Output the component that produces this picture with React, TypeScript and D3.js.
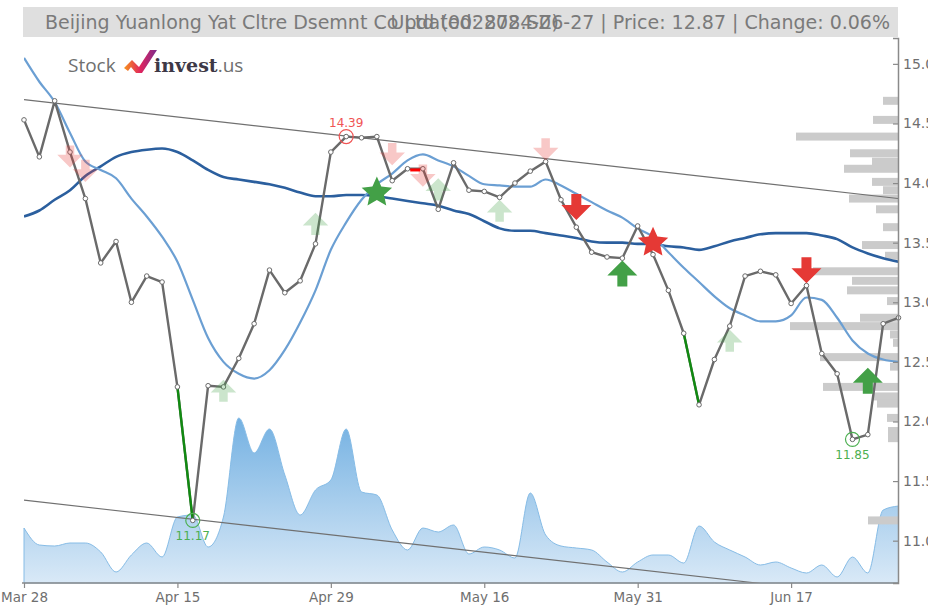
import React, { useEffect, useRef } from 'react';
import * as d3 from 'd3';

// daily closes, Mar 28 .. Jun 26 (58 sessions)
const closes = [
  14.53, 14.22, 14.69, 14.26, 13.87, 13.33, 13.51, 13.0, 13.22, 13.17,
  12.29, 11.17, 12.3, 12.29, 12.53, 12.82, 13.27, 13.08, 13.18, 13.49,
  14.26, 14.39, 14.38, 14.39, 14.02, 14.12, 14.12, 13.78, 14.17, 13.94,
  13.93, 13.88, 14.0, 14.1, 14.18, 13.86, 13.63, 13.42, 13.38, 13.37,
  13.64, 13.4, 13.1, 12.74, 12.14, 12.52, 12.8, 13.22, 13.26, 13.23,
  12.99, 13.14, 12.57, 12.4, 11.85, 11.89, 12.82, 12.87,
];

const maShort = [
  15.05, 14.85, 14.68, 14.42, 14.18, 14.11, 14.04, 13.87, 13.72, 13.55,
  13.34, 13.02, 12.7, 12.5, 12.4, 12.36, 12.43, 12.6, 12.83, 13.1,
  13.44, 13.67, 13.86, 13.99, 14.08, 14.19, 14.24, 14.19, 14.14, 14.06,
  13.99, 13.98, 13.97, 13.97, 14.03, 13.98, 13.91, 13.84, 13.77, 13.71,
  13.62, 13.55, 13.42, 13.29, 13.17, 13.05, 12.95, 12.89, 12.84, 12.84,
  12.89, 13.04, 13.02, 12.87, 12.68, 12.57, 12.52, 12.5,
];

const maLong = [
  13.72, 13.77, 13.86, 13.94, 14.06, 14.14, 14.22, 14.26, 14.28, 14.29,
  14.26, 14.19, 14.11, 14.05, 14.03, 14.01, 13.99, 13.96, 13.92, 13.89,
  13.89, 13.9, 13.9, 13.89, 13.87, 13.85, 13.83, 13.81, 13.77, 13.74,
  13.68, 13.62, 13.6, 13.6, 13.58, 13.56, 13.54, 13.51, 13.5, 13.5,
  13.49, 13.49, 13.47, 13.46, 13.44, 13.47, 13.51, 13.54, 13.57, 13.58,
  13.58, 13.58, 13.56, 13.53, 13.46, 13.41, 13.37, 13.34,
];

// volume, 10k shares
const volumes = [
  55, 38, 37, 40, 40, 31, 11, 28, 40, 26,
  66, 68, 36, 66, 165, 130, 154, 108, 68, 93,
  103, 154, 91, 88, 53, 33, 55, 51, 58, 29,
  36, 33, 25, 90, 48, 37, 35, 33, 21, 11,
  21, 28, 28, 20, 57, 41, 33, 26, 18, 21,
  15, 10, 18, 6, 26, 10, 73, 77,
];

const xTickIdx = [0, 10, 20, 30, 40, 50];
const xTickLabels = ['Mar 28', 'Apr 15', 'Apr 29', 'May 16', 'May 31', 'Jun 17'];
const yTicks = [11, 11.5, 12, 12.5, 13, 13.5, 14, 14.5, 15];

// volume by price
const profilePrices = [
  14.69, 14.53, 14.39, 14.25, 14.18, 14.12, 14.01, 13.94, 13.87, 13.78,
  13.63, 13.48, 13.39, 13.26, 13.18, 13.1, 13.01, 12.87, 12.8, 12.73,
  12.66, 12.54, 12.46, 12.29, 12.21, 12.15, 12.03, 11.92, 11.86, 11.17,
];
const profileVolumes = [
  15, 25, 102, 48, 26, 54, 26, 15, 49, 22,
  15, 36, 13, 85, 46, 51, 11, 38, 108, 8,
  5, 78, 8, 75, 25, 21, 11, 10, 10, 30,
];

// sessions whose move into the next one is highlighted
const greenSegments = [10, 43];

// signal arrows: index, tip price, direction, strong or faded
const arrowIdx = [3, 4, 13, 19, 24, 26, 27, 31, 34, 36, 39, 46, 51, 55];
const arrowPrice = [14.13, 14.01, 12.35, 13.75, 14.15, 13.97, 14.04, 13.86, 14.19, 13.69, 13.35, 12.77, 13.16, 12.45];
const arrowDir = ['down', 'down', 'up', 'up', 'down', 'down', 'up', 'up', 'down', 'down', 'up', 'up', 'down', 'up'];
const arrowStrong = [false, false, false, false, false, false, false, false, false, true, true, false, true, true];

// moving average crossovers
const starIdx = [23, 41];
const starPrice = [13.92, 13.5];
const starKind = ['buy', 'sell'];

// trend channel, price at first and last session
const channelUpper = [14.7, 13.87];
const channelLower = [11.34, 10.51];

// highs / lows
const extremeIdx = [21, 11, 54];
const extremeVal = [14.39, 11.17, 11.85];
const extremeKind = ['high', 'low', 'low'];

const eventIdx = [25.5];
const eventPrice = [14.11];

const W = 928;
const H = 608;
const left = 24;
const right = 898;
const top = 38;
const bottom = 583;
const RED = '#e53935';
const GREEN = '#43a047';
const FONT = 'DejaVu Sans, Verdana, sans-serif';

const arrowPath = (s: number) =>
  `M0,0L${15 * s},${15 * s}L${5 * s},${15 * s}L${5 * s},${26 * s}L${-5 * s},${26 * s}L${-5 * s},${15 * s}L${-15 * s},${15 * s}Z`;

const starPath = (R: number, r: number) => {
  const pts: string[] = [];
  for (let k = 0; k < 10; k++) {
    const rad = k % 2 === 0 ? R : r;
    const a = (Math.PI / 5) * k - Math.PI / 2;
    pts.push(`${(rad * Math.cos(a)).toFixed(2)},${(rad * Math.sin(a)).toFixed(2)}`);
  }
  return 'M' + pts.join('L') + 'Z';
};

const App: React.FC = () => {
  const ref = useRef<SVGSVGElement>(null);

  useEffect(() => {
    if (!ref.current) return;
    const svg = d3.select(ref.current);
    svg.selectAll('*').remove();

    const x = d3.scaleLinear().domain([0, closes.length - 1]).range([left, right + 0.5]);
    const y = d3.scaleLinear().domain([10.645, 15.217]).range([bottom, top]);
    const yVol = d3.scaleLinear().domain([0, 200]).range([bottom, bottom - 200]);

    const defs = svg.append('defs');
    const grad = defs.append('linearGradient')
      .attr('id', 'volGrad')
      .attr('gradientUnits', 'userSpaceOnUse')
      .attr('x1', 0).attr('x2', 0)
      .attr('y1', yVol(165)).attr('y2', bottom);
    grad.append('stop').attr('offset', '0%').attr('stop-color', '#74b1e2');
    grad.append('stop').attr('offset', '100%').attr('stop-color', '#d9e9f7');

    defs.append('clipPath').attr('id', 'plotClip')
      .append('rect')
      .attr('x', left).attr('y', top)
      .attr('width', right - left).attr('height', bottom - top);

    const logoGrad = defs.append('linearGradient').attr('id', 'logoGrad')
      .attr('x1', '0%').attr('x2', '100%').attr('y1', '0%').attr('y2', '0%');
    logoGrad.append('stop').attr('offset', '0%').attr('stop-color', '#f7941d');
    logoGrad.append('stop').attr('offset', '50%').attr('stop-color', '#e0245e');
    logoGrad.append('stop').attr('offset', '100%').attr('stop-color', '#7b2d8e');

    // title bar
    svg.append('rect')
      .attr('x', 23).attr('y', 7).attr('width', 875).attr('height', 30)
      .attr('fill', '#dfdfdf');
    svg.append('text')
      .attr('x', 45).attr('y', 29)
      .attr('font-family', FONT)
      .attr('font-size', 19).attr('fill', '#7a7a7a')
      .text('Beijing Yuanlong Yat Cltre Dsemnt Co Ltd (002878.SZ)');
    svg.append('text')
      .attr('x', 890).attr('y', 29).attr('text-anchor', 'end')
      .attr('font-family', FONT)
      .attr('font-size', 19).attr('fill', '#7a7a7a')
      .text('Updated: 2024-06-27 | Price: 12.87 | Change: 0.06%');

    // logo
    const logo = svg.append('g').attr('transform', 'translate(68,72)');
    logo.append('text')
      .attr('x', 0).attr('y', 0)
      .attr('font-family', 'Open Sans, sans-serif')
      .attr('font-size', 19).attr('fill', '#6f6f6f')
      .text('Stock');
    logo.append('path')
      .attr('d', 'M56,-4L64,-12L71,-5L82,-22L89,-22L74,1L68,1L63,-5L60,-1Z')
      .attr('fill', 'url(#logoGrad)');
    const inv = logo.append('text')
      .attr('x', 86).attr('y', 0)
      .attr('font-size', 19);
    inv.append('tspan')
      .attr('font-family', 'DejaVu Serif, serif').attr('font-weight', 'bold')
      .attr('fill', '#3d3846').text('invest');
    inv.append('tspan')
      .attr('font-family', 'Open Sans, sans-serif')
      .attr('fill', '#6f6f6f').text('.us');

    // volume area
    const area = d3.area<number>()
      .x((_, i) => x(i))
      .y0(bottom)
      .y1(d => yVol(d))
      .curve(d3.curveMonotoneX);
    svg.append('path')
      .datum(volumes)
      .attr('d', area)
      .attr('fill', 'url(#volGrad)')
      .attr('stroke', '#86bce6')
      .attr('stroke-width', 1);

    // volume profile
    const barH = Math.abs(y(0) - y(0.067));
    svg.append('g').selectAll('rect')
      .data(profilePrices)
      .enter()
      .append('rect')
      .attr('x', (_, i) => right - profileVolumes[i])
      .attr('y', d => y(d) - barH / 2)
      .attr('width', (_, i) => profileVolumes[i])
      .attr('height', barH)
      .attr('fill', '#cbcbcb');

    const plot = svg.append('g').attr('clip-path', 'url(#plotClip)');

    // trend channel
    const last = closes.length - 1;
    [channelUpper, channelLower].forEach(c => {
      plot.append('line')
        .attr('x1', x(0)).attr('y1', y(c[0]))
        .attr('x2', x(last)).attr('y2', y(c[1]))
        .attr('stroke', '#707070').attr('stroke-width', 1.1);
    });

    // moving averages
    const line = d3.line<number>().x((_, i) => x(i)).y(d => y(d));
    const smooth = d3.line<number>().x((_, i) => x(i)).y(d => y(d)).curve(d3.curveMonotoneX);
    plot.append('path').datum(maLong).attr('d', smooth)
      .attr('fill', 'none').attr('stroke', '#2b5f9e').attr('stroke-width', 2.6);
    plot.append('path').datum(maShort).attr('d', smooth)
      .attr('fill', 'none').attr('stroke', '#6b9fd3').attr('stroke-width', 2.2);

    // price
    plot.append('path').datum(closes).attr('d', line)
      .attr('fill', 'none').attr('stroke', '#6a6a6a').attr('stroke-width', 2.4)
      .attr('stroke-linejoin', 'round');
    greenSegments.forEach(i => {
      plot.append('line')
        .attr('x1', x(i)).attr('y1', y(closes[i]))
        .attr('x2', x(i + 1)).attr('y2', y(closes[i + 1]))
        .attr('stroke', '#118a11').attr('stroke-width', 2.4);
    });
    svg.append('g').selectAll('circle')
      .data(closes)
      .enter()
      .append('circle')
      .attr('cx', (_, i) => x(i))
      .attr('cy', d => y(d))
      .attr('r', 2.3)
      .attr('fill', '#fff')
      .attr('stroke', '#6a6a6a')
      .attr('stroke-width', 1);

    // highs / lows
    extremeIdx.forEach((idx, k) => {
      const col = extremeKind[k] === 'high' ? '#f05454' : '#4caf50';
      svg.append('circle')
        .attr('cx', x(idx)).attr('cy', y(extremeVal[k]))
        .attr('r', 7).attr('fill', 'none')
        .attr('stroke', col).attr('stroke-width', 1.2);
      svg.append('text')
        .attr('x', x(idx))
        .attr('y', y(extremeVal[k]) + (extremeKind[k] === 'high' ? -10 : 20))
        .attr('text-anchor', 'middle')
        .attr('font-family', FONT)
        .attr('font-size', 12).attr('fill', col)
        .text(extremeVal[k].toFixed(2));
    });

    // arrows
    arrowIdx.forEach((idx, k) => {
      const col = arrowDir[k] === 'up' ? GREEN : RED;
      const s = arrowStrong[k] ? 1 : 0.85;
      const flip = arrowDir[k] === 'up' ? 1 : -1;
      svg.append('path')
        .attr('d', arrowPath(s))
        .attr('transform', `translate(${x(idx)},${y(arrowPrice[k])}) scale(1,${flip})`)
        .attr('fill', col)
        .attr('opacity', arrowStrong[k] ? 1 : 0.28);
    });

    // crossovers
    starIdx.forEach((idx, k) => {
      svg.append('path')
        .attr('d', starPath(16, 7.5))
        .attr('transform', `translate(${x(idx)},${y(starPrice[k])})`)
        .attr('fill', starKind[k] === 'buy' ? GREEN : RED);
    });

    eventIdx.forEach((idx, k) => {
      svg.append('rect')
        .attr('x', x(idx) - 5).attr('y', y(eventPrice[k]) - 1.5)
        .attr('width', 10).attr('height', 3)
        .attr('fill', '#ff0000');
    });

    // axes
    const xAxis = svg.append('g')
      .attr('transform', `translate(0,${bottom})`)
      .call(
        d3.axisBottom(x)
          .tickValues(xTickIdx)
          .tickFormat((_, i) => xTickLabels[i])
          .tickSizeOuter(0)
          .tickSize(5)
          .tickPadding(4)
      );
    xAxis.select('.domain')
      .attr('d', `M${left - 2},0H${right}`)
      .attr('stroke', '#8a8a8a').attr('stroke-width', 1.5);
    xAxis.selectAll('.tick line').attr('stroke', '#8a8a8a').attr('stroke-width', 1.2);
    xAxis.selectAll('.tick text')
      .attr('fill', '#6f6f6f')
      .attr('font-size', 13.5)
      .attr('font-family', FONT);

    const yAxis = svg.append('g')
      .attr('transform', `translate(${right},0)`)
      .call(
        d3.axisRight(y)
          .tickValues(yTicks)
          .tickFormat(d3.format('.1f'))
          .tickSizeInner(-5)
          .tickSizeOuter(-5)
          .tickPadding(5)
      );
    yAxis.select('.domain').attr('stroke', '#8a8a8a').attr('stroke-width', 1.5);
    yAxis.selectAll('.tick line').attr('stroke', '#8a8a8a').attr('stroke-width', 1.2);
    yAxis.selectAll('.tick text')
      .attr('fill', '#6f6f6f')
      .attr('font-size', 14)
      .attr('font-family', FONT);
  }, []);

  return (
    <div style={{ position: 'fixed', left: 0, top: 0, width: W, height: H, background: '#fff' }}>
      <svg ref={ref} width={W} height={H} style={{ display: 'block' }} />
    </div>
  );
};

export default App;
